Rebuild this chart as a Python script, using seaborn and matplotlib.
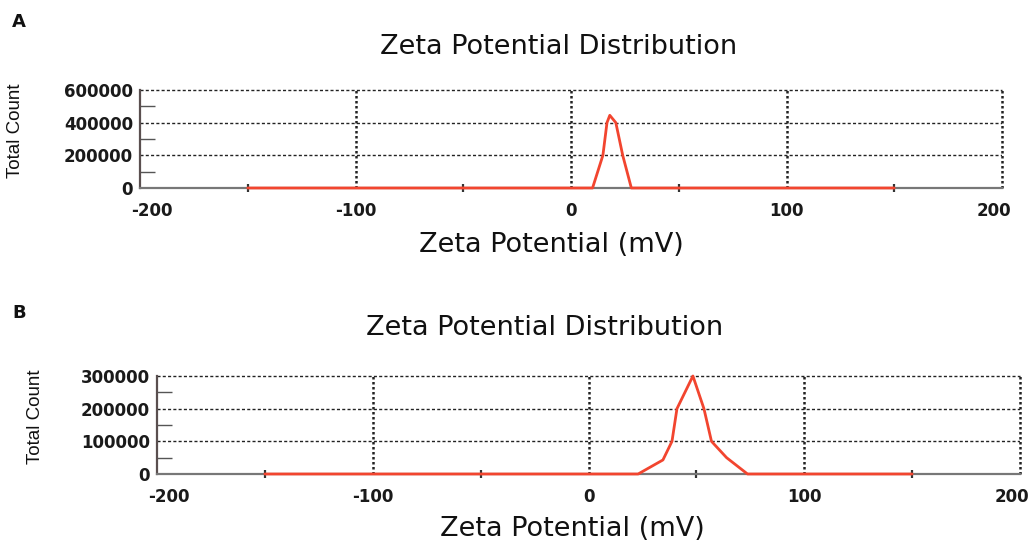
import numpy as np
import pandas as pd
import matplotlib
matplotlib.use("Agg")
import matplotlib.pyplot as plt
from matplotlib.ticker import FixedLocator
from matplotlib.transforms import ScaledTranslation
import seaborn as sns

# ---- data ----
zeta_a = [-150, 10, 14.8, 16.7, 18, 20.8, 24, 28, 150]
count_a = [0, 0, 200000, 400000, 445000, 400000, 200000, 0, 0]

zeta_b = [-150, 23, 34.5, 38.7, 41, 48.4, 53.5, 57, 64, 73.7, 150]
count_b = [0, 0, 43000, 100000, 200000, 300000, 200000, 100000, 50000, 0, 0]

yticks_a = [0, 200000, 400000, 600000]
yticks_b = [0, 100000, 200000, 300000]
xticks = [-200, -100, 0, 100, 200]
xminor = [-150, -50, 50, 150]

title = "Zeta Potential Distribution"
xlabel = "Zeta Potential (mV)"
ylabel = "Total Count"

sns.set_theme(style="white")
plt.rcParams['font.family'] = ['DejaVu Sans']

fig = plt.figure(figsize=(10.32, 5.41), dpi=100)
W, H = 1032, 541

def make_axes(l, r, t, b):
    return fig.add_axes([l / W, 1 - b / H, (r - l) / W, (b - t) / H])

ax_a = make_axes(140, 1002, 90, 188)
ax_b = make_axes(157, 1020, 376, 474)

line_color = "#f2452f"
dot_v = (0, (1.0, 1.0))
dot_h = (0, (2.2, 1.6))

def style(ax, x, y, yticks, label, title_xy, xlabel_xy, letter_xy, ylabel_xy):
    df = pd.DataFrame({"zeta": x, "count": y})
    sns.lineplot(data=df, x="zeta", y="count", ax=ax, color=line_color,
                 linewidth=2.0, zorder=5, clip_on=False)
    ax.set_xlim(-200, 200)
    ax.set_ylim(0, yticks[-1])
    ax.xaxis.set_major_locator(FixedLocator(xticks))
    ax.xaxis.set_minor_locator(FixedLocator(xminor))
    ax.yaxis.set_major_locator(FixedLocator(yticks))
    step = yticks[1] - yticks[0]
    ax.yaxis.set_minor_locator(FixedLocator([v + step / 2 for v in yticks[:-1]]))
    ax.set_xticklabels([str(v) for v in xticks])
    ax.set_yticklabels([str(v) for v in yticks])
    ax.tick_params(bottom=True, left=True, which="both")
    ax.tick_params(axis="both", which="major", length=0, labelsize=12,
                   labelcolor="#1a1a1a")
    ax.tick_params(axis="x", which="major", pad=10)
    ax.tick_params(axis="y", which="major", pad=5)
    ax.tick_params(axis="x", which="minor", length=6, width=1.6,
                   direction="inout", color="#333333")
    ax.tick_params(axis="y", which="minor", length=11, width=1.0,
                   direction="in", color="#555555")
    for lab in ax.get_xticklabels() + ax.get_yticklabels():
        lab.set_fontweight("semibold")
    xl = ax.get_xticklabels()
    xl[0].set_transform(xl[0].get_transform() + ScaledTranslation(12 / 100, 0, fig.dpi_scale_trans))
    xl[-1].set_transform(xl[-1].get_transform() + ScaledTranslation(-8 / 100, 0, fig.dpi_scale_trans))
    # grid: dotted
    for v in [-100, 0, 100]:
        ax.axvline(v, color="#222222", linestyle=dot_v, linewidth=1.8, zorder=1)
    for v in yticks[1:-1]:
        ax.axhline(v, color="#222222", linestyle=dot_h, linewidth=1.0, zorder=1)
    # spines
    ax.spines["left"].set_color("#5a4f4f")
    ax.spines["left"].set_linewidth(1.6)
    ax.spines["bottom"].set_color("#777777")
    ax.spines["bottom"].set_linewidth(1.6)
    ax.spines["top"].set_visible(False)
    ax.spines["right"].set_visible(False)
    ax.axhline(yticks[-1], color="#222222", linestyle=dot_h, linewidth=1.0,
               zorder=1, clip_on=False)
    ax.axvline(200, color="#222222", linestyle=dot_v, linewidth=1.8,
               zorder=1, clip_on=False)
    ax.set_xlabel("")
    ax.set_ylabel("")
    fig.text(title_xy[0] / W, 1 - title_xy[1] / H, title, ha="center", va="center",
             fontsize=19.5, color="#111111")
    fig.text(xlabel_xy[0] / W, 1 - xlabel_xy[1] / H, xlabel, ha="center", va="center",
             fontsize=19.5, color="#111111")
    fig.text(letter_xy[0] / W, 1 - letter_xy[1] / H, label, ha="left", va="center",
             fontsize=13, fontweight="bold", color="#111111")
    fig.text(ylabel_xy[0] / W, 1 - ylabel_xy[1] / H, ylabel, rotation=90,
             ha="center", va="center", fontsize=13.5,
             family=["Liberation Sans Narrow", "Liberation Sans", "DejaVu Sans"],
             color="#111111")

style(ax_a, zeta_a, count_a, yticks_a, "A", (559, 47), (551, 245), (12, 22), (16, 131))
style(ax_b, zeta_b, count_b, yticks_b, "B", (545, 328), (572, 529), (12, 313), (36, 417))

fig.savefig("out.png", dpi=100)
